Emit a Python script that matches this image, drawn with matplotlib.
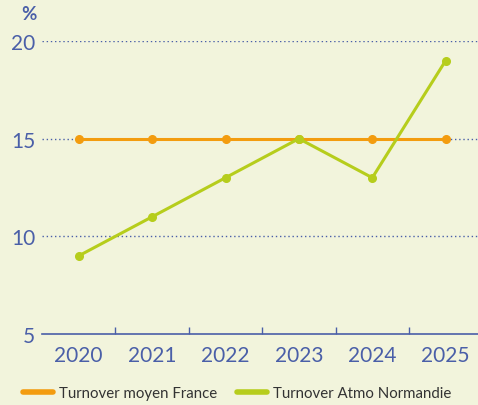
import matplotlib
matplotlib.use("Agg")
import matplotlib.pyplot as plt
import numpy as np

years = ["2020", "2021", "2022", "2023", "2024", "2025"]
france = [15, 15, 15, 15, 15, 15]
atmo = [9, 11, 13, 15, 13, 19]
labels = ["Turnover moyen France", "Turnover Atmo Normandie"]

bg = "#f2f4dc"
blue = "#4a5fa8"
orange = "#f39c0f"
green = "#b6cd1c"

plt.rcParams["font.family"] = ["Lato", "DejaVu Sans"]

fig = plt.figure(figsize=(4.78, 4.06), dpi=100, facecolor=bg)
ax = fig.add_axes([42 / 478, 71 / 406, 436 / 478, 293 / 406], facecolor=bg)

x = np.arange(len(years))
ax.plot(x, france, color=orange, lw=2.2, marker="o", ms=5.5, label=labels[0], clip_on=False, zorder=3)
ax.plot(x, atmo, color=green, lw=2.2, marker="o", ms=5.5, label=labels[1], clip_on=False, zorder=4)

ax.set_xlim(-0.5, 5.44)
ax.set_ylim(5, 20)
ax.set_yticks([5, 10, 15, 20])
ax.set_xticks(x)
ax.set_xticklabels(years)
ax.set_xticks(x[:-1] + 0.5, minor=True)

for s in ["top", "right", "left"]:
    ax.spines[s].set_visible(False)
ax.spines["bottom"].set_color(blue)
ax.spines["bottom"].set_linewidth(1.2)

ax.tick_params(axis="x", which="major", length=0, pad=8, labelsize=15, labelcolor=blue)
ax.tick_params(axis="x", which="minor", direction="in", length=5, width=1, color=blue)
ax.tick_params(axis="y", which="major", length=0, pad=5, labelsize=15, labelcolor=blue)
ax.set_yticks([5], minor=True)
ax.tick_params(axis="y", which="minor", direction="in", length=7, width=1.3, color="#2b3350")

for v in [10, 15, 20]:
    ax.axhline(v, color=blue, lw=1, ls=(0, (1, 2)), zorder=1)

fig.text(29 / 478, 1 - 14 / 406, "%", color=blue, fontsize=13.5, fontweight="bold",
         ha="center", va="center")

leg = fig.legend(loc="center left", bbox_to_anchor=(23 / 478, 12 / 406), ncol=2, frameon=False,
                 fontsize=10.8, handlelength=2.0, handletextpad=0.4, columnspacing=1.3,
                 borderaxespad=0, borderpad=0)
for h in leg.legend_handles:
    h.set_linewidth(4)
    h.set_marker("")
    h.set_solid_capstyle("round")
for t in leg.get_texts():
    t.set_color("#333333")

fig.savefig("out.png", dpi=100, facecolor=bg)
